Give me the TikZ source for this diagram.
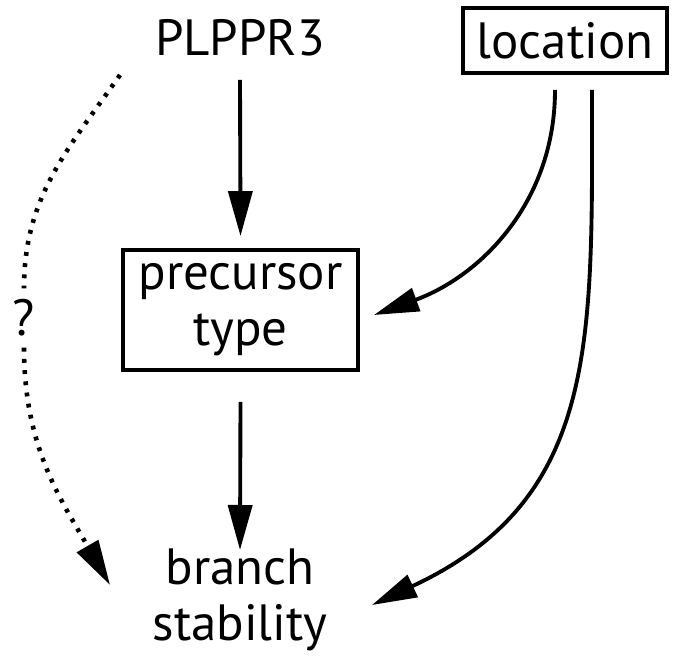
\documentclass[tikz,border=0pt]{standalone}
\usepackage{fontspec}
\setmainfont{PT Sans}
\usetikzlibrary{arrows.meta,positioning,calc}

\begin{document}
\begin{tikzpicture}[
  lbl/.style={font=\fontsize{14.5}{16}\selectfont, align=center, inner sep=0pt},
  boxed/.style={lbl, draw, line width=1.1pt},
  arr/.style={line width=1.1pt, -{Triangle[length=0.45cm,width=0.24cm]}},
  dotarr/.style={arr, line width=1.3pt, dash pattern=on 1.1pt off 2.1pt}
]
  \useasboundingbox (0,0) rectangle (6.73,6.59);

  % Factors
  \node[lbl] (plppr) at (2.40,6.21) {PLPPR3};
  \node[boxed, minimum width=2.04cm, minimum height=0.65cm] (loc) at (5.65,6.185) {location};
  \node[boxed, minimum width=2.35cm, minimum height=1.2cm] (prec) at (2.405,3.49) {precursor\\type};
  \node[lbl] (branch) at (2.40,0.59) {branch\\stability};
  \node[lbl, inner sep=3pt] (q) at (0.24,3.41) {?};
  \coordinate (dstart) at (1.20,5.84);

  % Straight arrows
  \draw[arr] ([yshift=-0.42cm]plppr.center) -- ([yshift=0.12cm]prec.north);
  \draw[arr] ([yshift=-0.30cm]prec.south) -- ([yshift=0.50cm]branch.center);

  % Curved arrows from location
  \draw[arr] ([xshift=-0.10cm,yshift=-0.15cm]loc.south) to[out=-90,in=20] ([xshift=0.14cm,yshift=-0.05cm]prec.east);
  \draw[arr] ([xshift=0.27cm,yshift=-0.15cm]loc.south) to[out=-90,in=25,looseness=1.15] ([xshift=1.32cm,yshift=-0.05cm]branch.center);

  % Dotted link
  \draw[dotarr, -] (dstart) to[out=235,in=90] (q.north);
  \draw[dotarr] (q.south) to[out=-90,in=120] ([xshift=-1.30cm,yshift=0.15cm]branch.center);
\end{tikzpicture}
\end{document}
